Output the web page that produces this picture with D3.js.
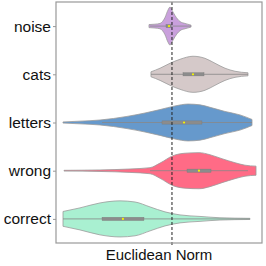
<!DOCTYPE html>
<html>
<head>
<meta charset="utf-8">
<script src="https://cdn.jsdelivr.net/npm/d3@7"></script>
<style>
  body { margin: 0; background: #fff; }
  svg { display: block; font-family: "Liberation Sans", Arial, sans-serif; }
</style>
</head>
<body>
<svg id="chart" width="266" height="266"></svg>
<script>
// categories top to bottom
const groups = ["noise", "cats", "letters", "wrong", "correct"];
const colors = ["#c9a0dc", "#d5c9c9", "#6699cc", "#ff6b86", "#a9f0d1"];

// density profiles (norm value, relative width)
const noiseX = [9.03, 9.61, 10.10, 10.58, 10.87, 11.07, 11.26, 11.55, 12.04, 12.52, 13.11];
const noiseD = [0.08, 0.10, 0.14, 0.45, 0.84, 1.0, 0.84, 0.56, 0.24, 0.14, 0.05];
const catsX = [9.22, 10.10, 11.07, 12.04, 13.30, 14.47, 15.44, 16.41, 17.38, 18.64];
const catsD = [0.13, 0.32, 0.58, 0.79, 0.95, 0.84, 0.58, 0.32, 0.16, 0.08];
const lettersX = [0.68, 2.33, 4.27, 6.89, 8.64, 10.10, 11.55, 12.82, 13.98, 14.95, 16.41, 17.86, 19.03];
const lettersD = [0.03, 0.07, 0.13, 0.32, 0.50, 0.68, 0.87, 0.97, 0.93, 0.80, 0.58, 0.40, 0.16];
const wrongX = [0.78, 4.27, 7.18, 9.13, 10.10, 11.36, 12.52, 13.88, 14.95, 16.12, 17.38, 18.35, 19.42];
const wrongD = [0.02, 0.04, 0.09, 0.16, 0.40, 0.79, 0.92, 0.95, 0.84, 0.63, 0.42, 0.29, 0.24];
const correctX = [0.68, 2.33, 4.27, 6.21, 7.67, 9.13, 10.58, 12.04, 13.98, 15.92, 18.83];
const correctD = [0.39, 0.58, 0.84, 0.95, 0.89, 0.63, 0.37, 0.21, 0.13, 0.06, 0.03];

// box stats: whisker low, q1, median, q3, whisker high
const whiskLo = [9.13, 9.22, 4.47, 9.13, 0.68];
const q1 = [10.68, 12.33, 10.29, 12.72, 4.47];
const median = [10.97, 13.30, 12.43, 13.88, 6.50];
const q3 = [11.17, 14.37, 14.17, 15.05, 8.54];
const whiskHi = [13.11, 18.64, 19.03, 18.64, 18.83];

const refLine = 11.26;

const profX = [noiseX, catsX, lettersX, wrongX, correctX];
const profD = [noiseD, catsD, lettersD, wrongD, correctD];

const margin = { top: 2, right: 4, bottom: 23, left: 56 };
const width = 266, height = 266;
const plotW = width - margin.left - margin.right;
const plotH = height - margin.top - margin.bottom;

const svg = d3.select("#chart");
const g = svg.append("g").attr("transform", `translate(${margin.left},${margin.top})`);

const x = d3.scaleLinear().domain([0, 20]).range([0, plotW]);
const y = d3.scalePoint().domain(groups).range([0, plotH]).padding(0.5);
const w = d3.scaleLinear().domain([0, 1]).range([0, 19]);

groups.forEach((name, i) => {
  const cy = y(name);
  const pts = profX[i].map((v, j) => [v, profD[i][j]]);
  const area = d3.area()
    .x(d => x(d[0]))
    .y0(d => cy - w(d[1]))
    .y1(d => cy + w(d[1]))
    .curve(d3.curveMonotoneX);
  g.append("path")
    .attr("d", area(pts))
    .attr("fill", colors[i])
    .attr("stroke", "#9a9a9a")
    .attr("stroke-width", 0.8);

  g.append("line")
    .attr("x1", x(whiskLo[i])).attr("x2", x(whiskHi[i]))
    .attr("y1", cy).attr("y2", cy)
    .attr("stroke", "#888").attr("stroke-width", 0.8);
  g.append("rect")
    .attr("x", x(q1[i])).attr("y", cy - 1.6)
    .attr("width", x(q3[i]) - x(q1[i])).attr("height", 3.2)
    .attr("fill", "#8c8c8c").attr("stroke", "#7a7a7a").attr("stroke-width", 0.4);
  g.append("circle")
    .attr("cx", x(median[i])).attr("cy", cy).attr("r", 1.1)
    .attr("fill", "#f5f500");
});

// dashed reference line
g.append("line")
  .attr("x1", x(refLine)).attr("x2", x(refLine))
  .attr("y1", 0).attr("y2", plotH + 3)
  .attr("stroke", "#222").attr("stroke-width", 1)
  .attr("stroke-dasharray", "3,2");

// frame
g.append("rect")
  .attr("x", 0).attr("y", 0).attr("width", plotW).attr("height", plotH)
  .attr("fill", "none").attr("stroke", "#999").attr("stroke-width", 1.2);

const yAxis = g.append("g")
  .call(d3.axisLeft(y).tickSize(3).tickPadding(2));
yAxis.select(".domain").remove();
yAxis.selectAll("line").attr("stroke", "#999");
yAxis.selectAll("text").attr("font-size", "15.5px").attr("fill", "#111")
  .attr("font-family", "Liberation Sans, Arial, sans-serif");

svg.append("text")
  .attr("x", margin.left + plotW / 2)
  .attr("y", 260)
  .attr("text-anchor", "middle")
  .attr("font-size", "15px")
  .attr("fill", "#111")
  .text("Euclidean Norm");
</script>
</body>
</html>
